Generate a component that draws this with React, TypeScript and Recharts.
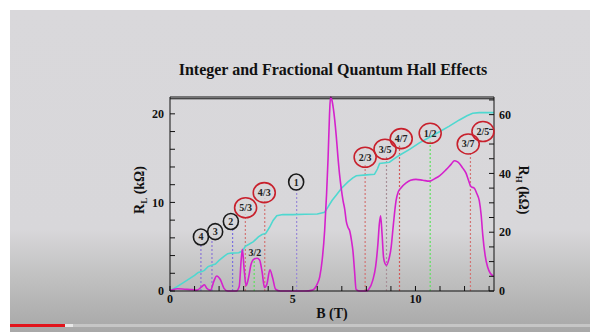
import {
  ComposedChart,
  Line,
  ReferenceLine,
  Scatter,
  XAxis,
  YAxis,
} from 'recharts';

// longitudinal resistance R_L (kΩ) vs B (T)
const rlB = [
  0, 0.3, 0.6, 0.9, 1.1, 1.3, 1.4, 1.5, 1.65, 1.8, 1.9, 2.05, 2.2, 2.35, 2.7, 2.82, 2.9, 2.95,
  3.02, 3.1, 3.2, 3.3, 3.42, 3.55, 3.65, 3.75, 3.85, 3.95, 4.07, 4.18, 4.3, 4.5, 5.0, 5.5, 5.8,
  6.0, 6.1, 6.2, 6.3, 6.38, 6.44, 6.5, 6.54, 6.6, 6.66, 6.77, 6.84, 6.91, 6.98, 7.05, 7.12, 7.18,
  7.25, 7.32, 7.4, 7.45, 7.52, 7.58, 7.7, 8.0, 8.1, 8.26, 8.38, 8.47, 8.53, 8.58, 8.64, 8.7, 8.76,
  8.82, 8.9, 9.01, 9.1, 9.21, 9.3, 9.4, 9.62, 9.8, 10.02, 10.3, 10.57, 10.8, 10.98, 11.25, 11.45,
  11.59, 11.7, 11.79, 11.92, 12.06, 12.15, 12.26, 12.4, 12.5, 12.6, 12.68, 12.74, 12.84, 12.94,
  13.05, 13.17,
];
const rlValues = [
  0.05, 0.25, 0.2, 0.15, 0.1, 0.5, 0.7, 0.3, 0.1, 1.2, 1.7, 1.3, 0.3, 0, 0, 0.5, 3.5, 4.7,
  2.5, 0.6, 1.5, 3.0, 3.6, 3.7, 3.5, 2.2, 0.4, 0.8, 2.4, 1.5, 0.2, 0, 0, 0, 0.1,
  0.8, 1.6, 3.5, 6.8, 11, 15, 20, 21.9, 21.5, 20.5, 17.6, 15.2, 13.1, 11.5, 10.2, 9.2, 7.9,
  7.2, 6.8, 5.6, 4.6, 2.2, 0.2, 0, 0, 0.2, 1.2, 2.8, 5.3, 7.6, 8.5, 6.4, 3.8, 3.1,
  2.9, 3.4, 4.95, 7.5, 10.2, 11.2, 11.6, 12.2, 12.5, 12.6, 12.5, 12.4, 12.7, 13.0, 13.7, 14.3,
  14.7, 14.6, 14.4, 13.9, 13.3, 12.6, 11.8, 11.6, 11.0, 10.2, 8.5, 6.4, 4.0, 2.7,
  2.0, 1.7,
];

// Hall resistance R_H (kΩ) vs B (T)
const rhB = [
  0, 0.5, 1.0, 1.15, 1.3, 1.4, 1.55, 1.7, 1.85, 2.0, 2.2, 2.35, 2.5, 2.8, 2.95, 3.07, 3.2, 3.4,
  3.6, 3.75, 3.9, 4.05, 4.2, 4.35, 4.6, 5.0, 5.5, 6.0, 6.3, 6.44, 6.6, 6.77, 6.98, 7.25, 7.45,
  7.59, 8.0, 8.33, 8.45, 8.54, 8.94, 9.1, 9.35, 9.76, 10.16, 10.57, 10.98, 11.38, 11.79, 12.1,
  12.33, 12.6, 13.2,
];
const rhValues = [
  0, 2.6, 5.3, 6.3, 6.6, 7.0, 8.3, 8.8, 9.2, 10.4, 11.8, 12.7, 12.9, 13.0, 13.6, 15.2, 15.8, 16.8,
  18.4, 19.2, 19.6, 21.6, 24.0, 25.6, 26.0, 26.0, 26.1, 26.2, 26.8, 28.6, 30.8, 32.6, 34.9, 37.1, 38.5,
  39.2, 39.5, 39.7, 41.5, 43.4, 43.8, 44.8, 46.2, 48.2, 50.4, 52.3, 54.2, 56.1, 58.2, 59.6,
  60.5, 60.7, 60.7,
];

// filling factors marked on the plot
const nuLabels = ['4', '3', '2', '5/3', '3/2', '4/3', '1', '2/3', '3/5', '4/7', '1/2', '3/7', '2/5'];
const nuB = [1.26, 1.71, 2.55, 3.07, 3.43, 3.86, 5.16, 7.95, 8.82, 9.35, 10.6, 12.24, 12.6];
const labelB = [1.26, 1.84, 2.48, 3.08, 3.46, 3.84, 5.14, 7.95, 8.76, 9.42, 10.6, 12.15, 12.75];
const labelY = [6.1, 6.7, 7.85, 9.4, 4.36, 11.1, 12.3, 15.1, 16.0, 17.2, 17.8, 16.6, 18.0];
const markTop = [5.4, 5.9, 7.0, 8.6, 3.6, 10.4, 11.7, 14.2, 15.2, 16.4, 16.9, 15.6, 0];
const markKind = ['int', 'int', 'int', 'frac', 'none', 'frac', 'int', 'frac', 'frac', 'frac', 'frac', 'frac', 'frac'];
const markLine = ['#8a74d8', '#8a74d8', '#7a70e0', '#d27474', '#5ee05e', '#d27474', '#9a8ad8', '#d27474', '#a89098', '#d25a5a', '#5ee05e', '#d27474', 'none'];

const xTicks = [0, 1, 2, 3, 4, 5, 6, 7, 8, 9, 10, 11, 12, 13];
const leftTicks = [0, 2, 4, 6, 8, 10, 12, 14, 16, 18, 20];
const rightTicks = [0, 5, 10, 15, 20, 25, 30, 35, 40, 45, 50, 55, 60, 65];

const rlData = rlB.map((b, i) => ({ b, rl: rlValues[i] }));
const rhData = rhB.map((b, i) => ({ b, rh: rhValues[i] }));
const labelData = nuLabels.map((text, i) => ({ b: labelB[i], y: labelY[i], text, kind: markKind[i] }));

const FONT = '"Liberation Serif", "Times New Roman", serif';
const tickStyle = { fontFamily: FONT, fontWeight: 'bold', fontSize: 12, fill: '#111' };

function Bubble(props: any) {
  const { cx, cy, payload } = props;
  if (cx == null || cy == null) return null;
  const color = payload.kind === 'frac' ? '#c8202c' : '#1a1a1a';
  const wide = payload.text.length > 1;
  return (
    <g>
      {payload.kind !== 'none' && (
        <ellipse
          cx={cx}
          cy={cy}
          rx={wide ? 11 : 7.5}
          ry={wide ? 10 : 8}
          fill="none"
          stroke={color}
          strokeWidth={1.6}
        />
      )}
      <text x={cx} y={cy + 3.5} textAnchor="middle" fontFamily={FONT} fontWeight="bold" fontSize={10} fill="#222">
        {payload.text}
      </text>
    </g>
  );
}

function AxisName({ x, y, rotate, sub }: { x: number; y: number; rotate: number; sub: string }) {
  return (
    <text
      x={x}
      y={y}
      transform={`rotate(${rotate} ${x} ${y})`}
      textAnchor="middle"
      fontFamily={FONT}
      fontWeight="bold"
      fontSize={14}
      fill="#111"
    >
      R<tspan fontSize={9} dy={3}>{sub}</tspan>
      <tspan dy={-3}> (kΩ)</tspan>
    </text>
  );
}

export default function App() {
  return (
    <div style={{ position: 'absolute', left: 0, top: 0, width: 590, height: 332, background: '#fff', overflow: 'hidden' }}>
      <div
        style={{
          position: 'absolute',
          left: 10,
          top: 10,
          width: 580,
          height: 322,
          background: 'linear-gradient(to bottom, #d9d8db 0%, #d8d7da 68%, #c2c2c2 82%, #adadad 96%, #a8a8a8 100%)',
        }}
      />
      <div style={{ position: 'absolute', left: 10, top: 324, width: 580, height: 3, background: '#c6c6c6' }} />
      <div style={{ position: 'absolute', left: 10, top: 324, width: 63, height: 3, background: '#e8e8e8' }} />
      <div style={{ position: 'absolute', left: 10, top: 324, width: 55, height: 3, background: '#e2141c' }} />
      <div
        style={{
          position: 'absolute',
          left: 0,
          top: 61,
          width: 666,
          textAlign: 'center',
          fontFamily: FONT,
          fontWeight: 'bold',
          fontSize: 16,
          color: '#111',
        }}
      >
        Integer and Fractional Quantum Hall Effects
      </div>
      <div style={{ position: 'absolute', left: 0, top: 0 }}>
        <ComposedChart width={590} height={332} margin={{ top: 96, right: 56, bottom: 11, left: 130 }}>
          <XAxis
            xAxisId="top"
            orientation="top"
            type="number"
            dataKey="b"
            domain={[0, 13.2]}
            ticks={xTicks}
            height={1}
            tickSize={-5}
            tickFormatter={() => ''}
            stroke="#111"
          />
          <XAxis
            type="number"
            dataKey="b"
            domain={[0, 13.2]}
            ticks={xTicks}
            height={30}
            tickSize={-5}
            tickMargin={8}
            tick={tickStyle}
            tickFormatter={(v: number) => (v % 5 === 0 ? String(v) : '')}
            stroke="#111"
            label={{
              content: ({ viewBox }: any) => (
                <text
                  x={viewBox.x + viewBox.width / 2}
                  y={viewBox.y + 27}
                  textAnchor="middle"
                  fontFamily={FONT}
                  fontWeight="bold"
                  fontSize={14}
                  fill="#111"
                >
                  B (T)
                </text>
              ),
            }}
          />
          <YAxis
            yAxisId="left"
            type="number"
            domain={[0, 21.7]}
            ticks={leftTicks}
            width={40}
            tickSize={-5}
            tickMargin={11}
            tick={tickStyle}
            tickFormatter={(v: number) => (v % 10 === 0 ? String(v) : '')}
            stroke="#111"
            label={{
              content: ({ viewBox }: any) => (
                <AxisName x={viewBox.x + 14} y={viewBox.y + viewBox.height / 2 - 4} rotate={-90} sub="L" />
              ),
            }}
          />
          <YAxis
            yAxisId="right"
            orientation="right"
            type="number"
            domain={[0, 66]}
            ticks={rightTicks}
            width={40}
            tickSize={-5}
            tickMargin={10}
            tick={tickStyle}
            tickFormatter={(v: number) => (v % 20 === 0 ? String(v) : '')}
            stroke="#111"
            label={{
              content: ({ viewBox }: any) => (
                <AxisName x={viewBox.x + 25} y={viewBox.y + viewBox.height / 2 - 4} rotate={90} sub="H" />
              ),
            }}
          />
          {nuB.map((b, i) =>
            markLine[i] === 'none' ? null : (
              <ReferenceLine
                key={nuLabels[i]}
                yAxisId="left"
                segment={[
                  { x: b, y: 0 },
                  { x: b, y: markTop[i] },
                ]}
                stroke={markLine[i]}
                strokeWidth={1.2}
                strokeDasharray="2 2"
                ifOverflow="visible"
              />
            ),
          )}
          <ReferenceLine yAxisId="left" y={21.7} stroke="#111" ifOverflow="visible" />
          <Line
            yAxisId="right"
            data={rhData}
            dataKey="rh"
            type="linear"
            stroke="#4fd8d0"
            strokeWidth={1.6}
            dot={false}
            isAnimationActive={false}
          />
          <Line
            yAxisId="left"
            data={rlData}
            dataKey="rl"
            type="monotone"
            stroke="#d422cc"
            strokeWidth={1.6}
            dot={false}
            isAnimationActive={false}
          />
          <Scatter
            yAxisId="left"
            data={labelData}
            dataKey="y"
            shape={(p: any) => <Bubble {...p} />}
            isAnimationActive={false}
          />
        </ComposedChart>
      </div>
    </div>
  );
}
